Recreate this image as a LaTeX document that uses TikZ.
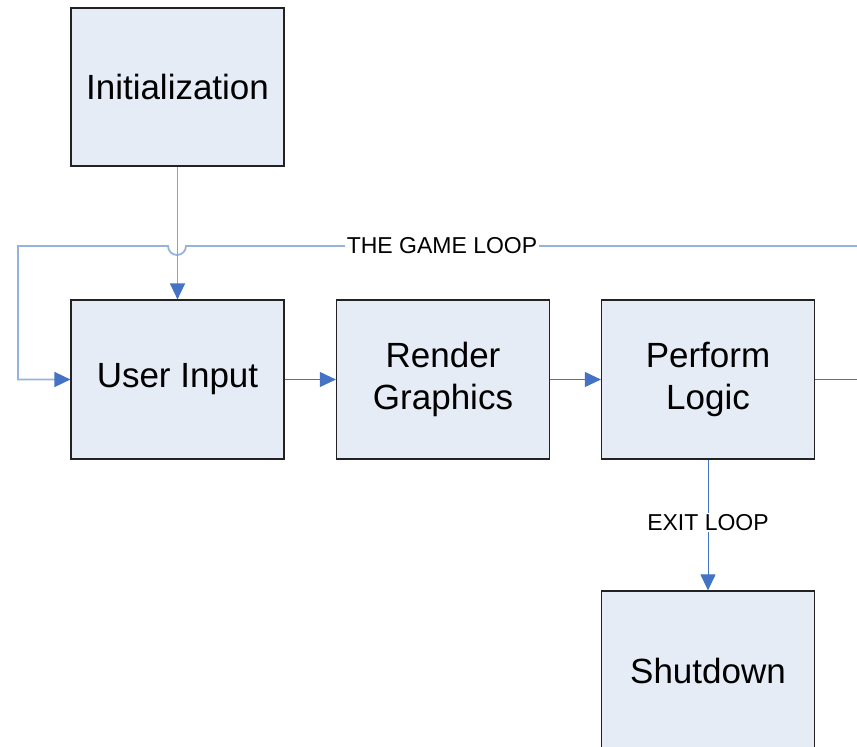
\documentclass[tikz,border=0pt]{standalone}
\usepackage{fontspec}
\setmainfont{Liberation Sans}
\usetikzlibrary{arrows.meta}
\definecolor{boxfill}{HTML}{E6ECF6}
\definecolor{boxline}{HTML}{222222}
\definecolor{flowblue}{HTML}{4472C4}
\definecolor{loopblue}{HTML}{95B3DE}
\definecolor{initblue}{HTML}{85A3D8}
\tikzset{
  stagebox/.style={draw=boxline, line width=1.2pt, fill=boxfill,
    minimum width=213pt, minimum height=159pt, inner sep=0pt,
    align=center, font=\fontsize{35}{42}\selectfont},
  bluetip/.style={-{Triangle[length=16pt,width=15pt,color=flowblue]}},
  flow/.style={draw=flowblue, line width=1pt, bluetip},
  loopline/.style={draw=loopblue, line width=1.8pt},
  tag/.style={fill=white, inner sep=1.5pt, font=\fontsize{23}{27}\selectfont}
}
\begin{document}
\begin{tikzpicture}[x=1pt,y=-1pt]
  \useasboundingbox (0,0) rectangle (857,747);
  \clip (0,0) rectangle (857,747);

  % stages of the program
  \node[stagebox, minimum height=158pt] (init) at (177.5,87) {Initialization};
  \node[stagebox] (input)  at (177.5,379.5) {User Input};
  \node[stagebox] (render) at (443,379.5)   {Render\\Graphics};
  \node[stagebox] (logic)  at (708,379.5)   {Perform\\Logic};
  \node[stagebox] (shut)   at (708,670.5)   {Shutdown};

  % loop return path, leaving the right edge and coming back on the left
  \coordinate (outR) at (875,379.5);
  \coordinate (topR) at (875,246);
  \coordinate (topL) at (18,246);
  \coordinate (botL) at (18,379.5);
  \draw[flowblue, line width=1pt] (logic.east) -- (outR);
  \draw[loopline, bluetip] (topR) -- (186,246)
    arc[start angle=0, end angle=180, radius=9]
    -- (topL) -- (botL) -- (input.west);
  \node[tag] (looplabel) at (442,246) {THE GAME LOOP};

  % start-up into the loop
  \draw[initblue, line width=1.4pt, bluetip] (init.south) -- (input.north);

  % flow inside the loop
  \draw[flow] (input.east) -- (render.west);
  \draw[flow] (render.east) -- (logic.west);

  % leaving the loop
  \draw[flow] (logic.south) -- (shut.north)
    node[tag, pos=0.48] (exitlabel) {EXIT LOOP};
\end{tikzpicture}
\end{document}
